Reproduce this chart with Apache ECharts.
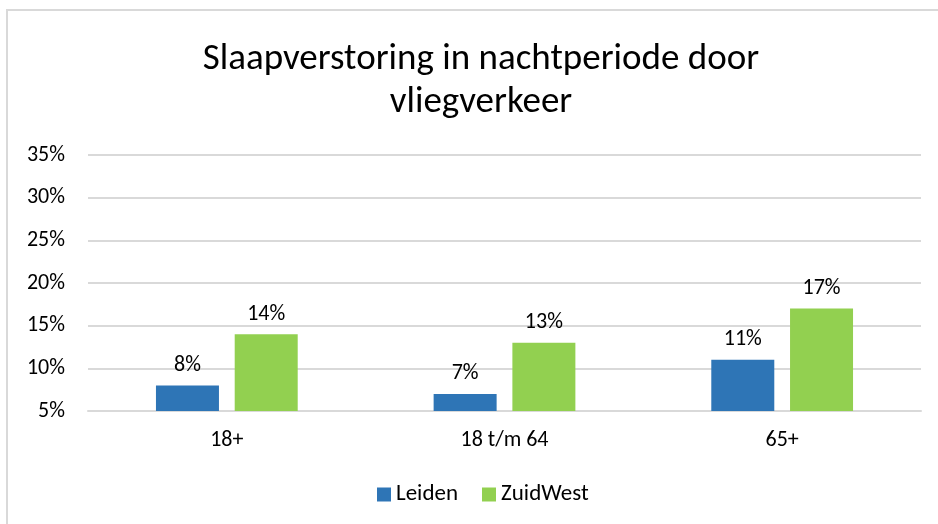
<!DOCTYPE html>
<html>
<head>
<meta charset="utf-8">
<script src="https://cdn.jsdelivr.net/npm/echarts@6/dist/echarts.min.js"></script>
<style>
html, body { margin: 0; padding: 0; background: #fff; }
#chart { width: 938px; height: 524px; }
</style>
</head>
<body>
<div id="chart"></div>
<script>
// Slaapverstoring per leeftijdsgroep
var categories = ['18+', '18 t/m 64', '65+'];
var leiden = [8, 7, 11];
var zuidWest = [14, 13, 17];

var font = 'Calibri, Carlito, "Open Sans", sans-serif';
var fs = 22;
var chart = echarts.init(document.getElementById('chart'));
var option = {
    backgroundColor: '#fff',
    textStyle: { fontFamily: font },
    graphic: [{
        type: 'rect',
        shape: { x: 7, y: 10, width: 940, height: 530 },
        style: { fill: 'none', stroke: '#d9d9d9', lineWidth: 2 },
        silent: true
    }],
    title: {
        text: 'Slaapverstoring in nachtperiode door\nvliegverkeer',
        left: 476,
        top: 33,
        textAlign: 'center',
        textStyle: { fontFamily: font, fontSize: 37, fontWeight: 'normal', color: '#000', lineHeight: 43 }
    },
    legend: {
        data: ['Leiden', 'ZuidWest'],
        bottom: 13,
        left: 372,
        itemWidth: 14,
        itemHeight: 14,
        itemGap: 24,
        icon: 'rect',
        textStyle: { fontFamily: font, fontSize: 23, color: '#000' }
    },
    grid: { left: 88, right: 17, top: 155, bottom: 113 },
    xAxis: {
        type: 'category',
        data: categories,
        axisLine: { show: true, lineStyle: { color: '#d9d9d9', width: 2 } },
        axisTick: { show: false },
        axisLabel: { fontFamily: font, fontSize: fs, color: '#000', margin: 18 }
    },
    yAxis: {
        type: 'value',
        min: 5,
        max: 35,
        interval: 5,
        axisLine: { show: false },
        axisTick: { show: false },
        axisLabel: { fontFamily: font, fontSize: fs, color: '#000', margin: 23, formatter: '{value}%' },
        splitLine: { lineStyle: { color: '#d9d9d9', width: 2 } }
    },
    series: [
        {
            name: 'Leiden',
            type: 'bar',
            data: leiden,
            barWidth: 63,
            barGap: '25%',
            itemStyle: { color: '#2e75b6' },
            label: { show: true, position: 'top', distance: 9, formatter: '{c}%', fontFamily: font, fontSize: fs, color: '#000' }
        },
        {
            name: 'ZuidWest',
            type: 'bar',
            data: zuidWest,
            barWidth: 63,
            itemStyle: { color: '#92d050' },
            label: { show: true, position: 'top', distance: 9, formatter: '{c}%', fontFamily: font, fontSize: fs, color: '#000' }
        }
    ]
};
chart.setOption(option);
</script>
</body>
</html>
